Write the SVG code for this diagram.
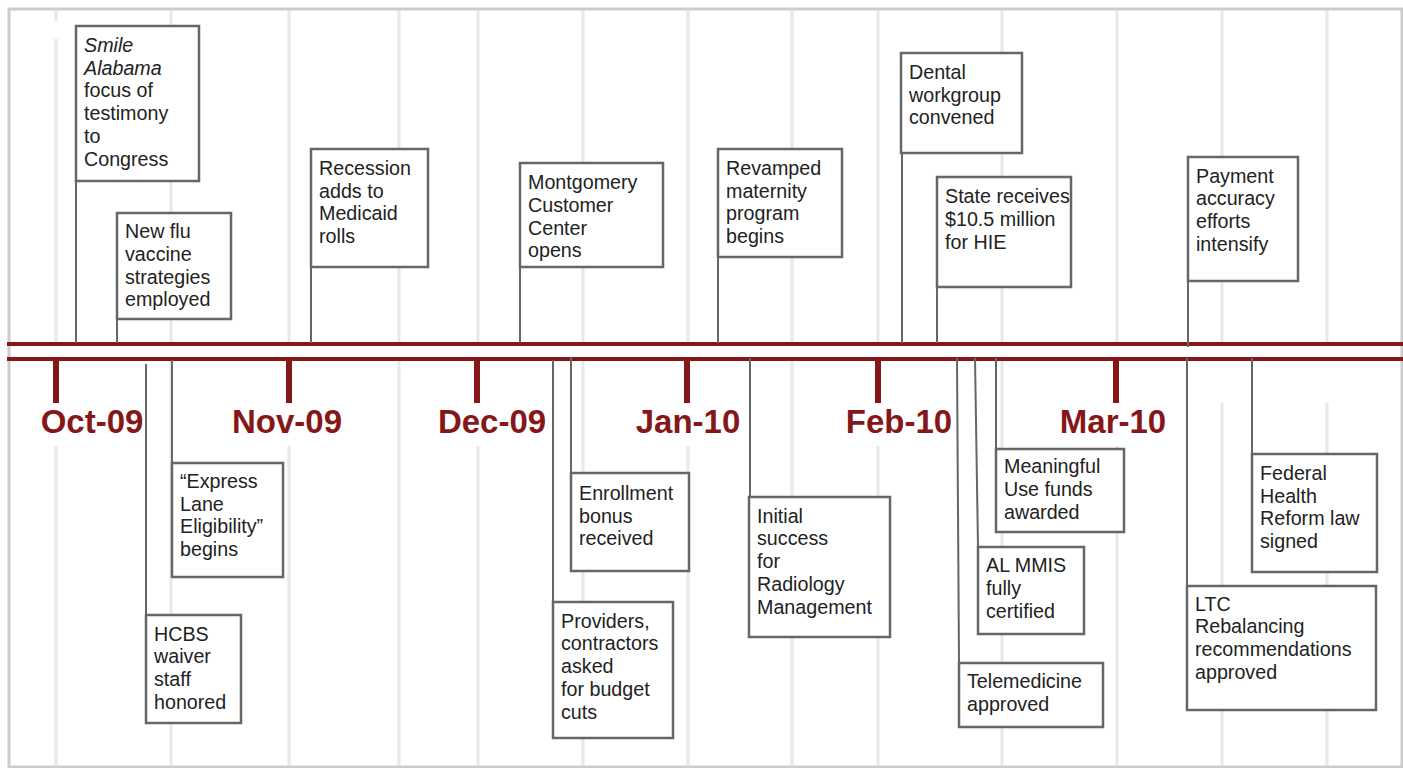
<svg xmlns="http://www.w3.org/2000/svg" width="1403" height="768" viewBox="0 0 1403 768">
<style>
.grid{stroke:#e8e8ea;stroke-width:3;fill:none}
.red{stroke:#861719;fill:none}
.tick{stroke:#861719;stroke-width:6}
.month{font-family:"Liberation Sans",Arial,sans-serif;font-weight:bold;font-size:33px;fill:#861719;text-anchor:middle}
.conn{stroke:#666;stroke-width:2;fill:none}
.box{fill:#fff;stroke:#666;stroke-width:2.5}
.lbl{font-family:"Liberation Sans",Arial,sans-serif;font-size:19.7px;fill:#222}
.it{font-style:italic}
</style>
<rect x="0" y="0" width="1403" height="768" fill="#fff"/>
<rect x="9" y="9" width="1393" height="758" fill="none" stroke="#cccccc" stroke-width="3"/>
<g id="grid" class="grid">
<path d="M56 11V21M56 39V342M56 446V766"/>
<path d="M171 11V342M171 360V766"/>
<path d="M289 11V342M289 446V766"/>
<path d="M399 11V342M399 360V766"/>
<path d="M478 11V342M478 446V766"/>
<path d="M583 11V342M583 360V766"/>
<path d="M688 11V342M688 446V766"/>
<path d="M792 11V342M792 360V766"/>
<path d="M878 11V342M878 446V766"/>
<path d="M1002 11V342M1002 360V766"/>
<path d="M1117 11V342M1117 446V766"/>
<path d="M1222 11V342M1222 403V766"/>
<path d="M1327 11V342M1327 403V766"/>
</g>
<g id="timeline">
<line class="red" x1="7" y1="344" x2="1403" y2="344" stroke-width="4"/>
<line class="red" x1="7" y1="359" x2="1403" y2="359" stroke-width="4"/>
<line class="tick" x1="56" y1="359" x2="56" y2="403"/>
<line class="tick" x1="289" y1="359" x2="289" y2="403"/>
<line class="tick" x1="477" y1="359" x2="477" y2="403"/>
<line class="tick" x1="687" y1="359" x2="687" y2="403"/>
<line class="tick" x1="878" y1="359" x2="878" y2="403"/>
<line class="tick" x1="1116" y1="359" x2="1116" y2="403"/>
<text class="month" x="92" y="433">Oct-09</text>
<text class="month" x="287" y="433">Nov-09</text>
<text class="month" x="492" y="433">Dec-09</text>
<text class="month" x="688" y="433">Jan-10</text>
<text class="month" x="899" y="433">Feb-10</text>
<text class="month" x="1113" y="433">Mar-10</text>
</g>
<g id="connectors" class="conn">
<path d="M76 181V343"/>
<path d="M117 319V343"/>
<path d="M311 267V343"/>
<path d="M520 267V343"/>
<path d="M718 257V343"/>
<path d="M902 153V343"/>
<path d="M937 287V343"/>
<path d="M1188 281V347"/>
<path d="M172 360V463"/>
<path d="M146 364V615"/>
<path d="M571 357V473"/>
<path d="M553 360V602"/>
<path d="M750 358V497"/>
<path d="M996 358V449"/>
<path d="M975 358L978 547"/>
<path d="M957 358L959 663"/>
<path d="M1252 358V454"/>
<path d="M1187 358V586"/>
</g>
<g id="n1"><rect class="box" x="76" y="26" width="123" height="155"/>
<text class="lbl"><tspan class="it" x="84" y="51.7">Smile</tspan><tspan class="it" x="84" y="74.5">Alabama</tspan><tspan x="84" y="97.3">focus of</tspan><tspan x="84" y="120.1">testimony</tspan><tspan x="84" y="142.9">to</tspan><tspan x="84" y="165.7">Congress</tspan></text></g>
<g id="n2"><rect class="box" x="117" y="213" width="114" height="106"/>
<text class="lbl"><tspan x="125" y="238.3">New flu</tspan><tspan x="125" y="261">vaccine</tspan><tspan x="125" y="283.7">strategies</tspan><tspan x="125" y="306.4">employed</tspan></text></g>
<g id="n3"><rect class="box" x="311" y="149" width="117" height="118"/>
<text class="lbl"><tspan x="319" y="175">Recession</tspan><tspan x="319" y="197.7">adds to</tspan><tspan x="319" y="220.4">Medicaid</tspan><tspan x="319" y="243.1">rolls</tspan></text></g>
<g id="n4"><rect class="box" x="520" y="163" width="143" height="104"/>
<text class="lbl"><tspan x="528" y="189.3">Montgomery</tspan><tspan x="528" y="212">Customer</tspan><tspan x="528" y="234.7">Center</tspan><tspan x="528" y="257.4">opens</tspan></text></g>
<g id="n5"><rect class="box" x="718" y="149" width="124" height="108"/>
<text class="lbl"><tspan x="726" y="175">Revamped</tspan><tspan x="726" y="197.7">maternity</tspan><tspan x="726" y="220.4">program</tspan><tspan x="726" y="243.1">begins</tspan></text></g>
<g id="n6"><rect class="box" x="901" y="53" width="121" height="100"/>
<text class="lbl"><tspan x="909" y="79">Dental</tspan><tspan x="909" y="101.7">workgroup</tspan><tspan x="909" y="124.4">convened</tspan></text></g>
<g id="n7"><rect class="box" x="937" y="177" width="134" height="110"/>
<text class="lbl"><tspan x="945" y="203.3">State receives</tspan><tspan x="945" y="226">$10.5 million</tspan><tspan x="945" y="248.7">for HIE</tspan></text></g>
<g id="n8"><rect class="box" x="1188" y="157" width="110" height="124"/>
<text class="lbl"><tspan x="1196" y="182.7">Payment</tspan><tspan x="1196" y="205.4">accuracy</tspan><tspan x="1196" y="228.1">efforts</tspan><tspan x="1196" y="250.8">intensify</tspan></text></g>
<g id="n9"><rect class="box" x="172" y="463" width="111" height="114"/>
<text class="lbl"><tspan x="180" y="488">“Express</tspan><tspan x="180" y="510.7">Lane</tspan><tspan x="180" y="533.4">Eligibility”</tspan><tspan x="180" y="556.1">begins</tspan></text></g>
<g id="n10"><rect class="box" x="146" y="615" width="95" height="108"/>
<text class="lbl"><tspan x="154" y="640.7">HCBS</tspan><tspan x="154" y="663.4">waiver</tspan><tspan x="154" y="686.1">staff</tspan><tspan x="154" y="708.8">honored</tspan></text></g>
<g id="n11"><rect class="box" x="571" y="473" width="118" height="98"/>
<text class="lbl"><tspan x="579" y="500">Enrollment</tspan><tspan x="579" y="522.7">bonus</tspan><tspan x="579" y="545.4">received</tspan></text></g>
<g id="n12"><rect class="box" x="553" y="602" width="120" height="136"/>
<text class="lbl"><tspan x="561" y="627.7">Providers,</tspan><tspan x="561" y="650.4">contractors</tspan><tspan x="561" y="673.1">asked</tspan><tspan x="561" y="695.8">for budget</tspan><tspan x="561" y="718.5">cuts</tspan></text></g>
<g id="n13"><rect class="box" x="749" y="497" width="141" height="140"/>
<text class="lbl"><tspan x="757" y="522.7">Initial</tspan><tspan x="757" y="545.4">success</tspan><tspan x="757" y="568.1">for</tspan><tspan x="757" y="590.8">Radiology</tspan><tspan x="757" y="613.5">Management</tspan></text></g>
<g id="n14"><rect class="box" x="996" y="449" width="128" height="83"/>
<text class="lbl"><tspan x="1004" y="473.3">Meaningful</tspan><tspan x="1004" y="496">Use funds</tspan><tspan x="1004" y="518.7">awarded</tspan></text></g>
<g id="n15"><rect class="box" x="978" y="547" width="106" height="87"/>
<text class="lbl"><tspan x="986" y="572.3">AL MMIS</tspan><tspan x="986" y="595">fully</tspan><tspan x="986" y="617.7">certified</tspan></text></g>
<g id="n16"><rect class="box" x="959" y="663" width="144" height="64"/>
<text class="lbl"><tspan x="967" y="688.3">Telemedicine</tspan><tspan x="967" y="711">approved</tspan></text></g>
<g id="n17"><rect class="box" x="1252" y="454" width="125" height="118"/>
<text class="lbl"><tspan x="1260" y="480">Federal</tspan><tspan x="1260" y="502.7">Health</tspan><tspan x="1260" y="525.4">Reform law</tspan><tspan x="1260" y="548.1">signed</tspan></text></g>
<g id="n18"><rect class="box" x="1187" y="586" width="189" height="124"/>
<text class="lbl"><tspan x="1195" y="610.7">LTC</tspan><tspan x="1195" y="633.4">Rebalancing</tspan><tspan x="1195" y="656.1">recommendations</tspan><tspan x="1195" y="678.8">approved</tspan></text></g>
</svg>
